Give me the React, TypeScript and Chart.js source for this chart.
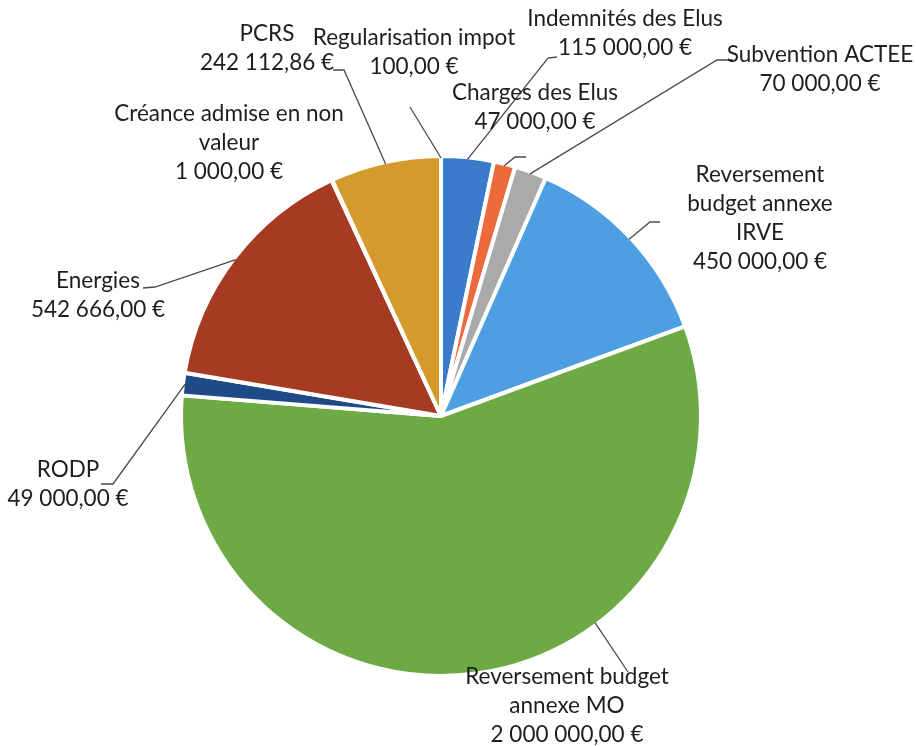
import React, { useEffect, useRef } from 'react';
import { Chart, registerables } from 'chart.js';

Chart.register(...registerables);

// ---- data ----
const categories = [
  'Regularisation impot',
  'Indemnités des Elus',
  'Charges des Elus',
  'Subvention ACTEE',
  'Reversement budget annexe IRVE',
  'Reversement budget annexe MO',
  'RODP',
  'Energies',
  'Créance admise en non valeur',
  'PCRS',
];
const values = [100, 115000, 47000, 70000, 450000, 2000000, 49000, 542666, 1000, 242112.86];
const colors = [
  '#5a4a30',
  '#3b7bcb',
  '#ec6a3c',
  '#aaaaaa',
  '#4d9fe2',
  '#6daa45',
  '#1f4a86',
  '#a63b24',
  '#646464',
  '#d49a2c',
];

// ---- label layout (style only) ----
type Pt = [number, number];
interface LabelLayout {
  x: number;
  y: number;
  wrap: number;
  leader: Pt[];
  frac?: number;
}
const labelLayout: LabelLayout[] = [
  { x: 414, y: 38, wrap: 400, leader: [[410, 107]] },
  { x: 625, y: 19, wrap: 400, leader: [[557, 57], [548, 58]] },
  { x: 535, y: 93, wrap: 400, leader: [[526, 157], [515, 157]] },
  { x: 820, y: 55, wrap: 400, leader: [[733, 60], [717, 60]] },
  { x: 760, y: 175, wrap: 165, leader: [[660, 222], [650, 222]] },
  { x: 567, y: 677, wrap: 225, leader: [[628, 672]], frac: 0.359 },
  { x: 68, y: 470, wrap: 400, leader: [[101, 484], [113, 484]] },
  { x: 98, y: 281, wrap: 400, leader: [[143, 288], [155, 287]] },
  { x: 229, y: 114, wrap: 250, leader: [] },
  { x: 267, y: 34, wrap: 400, leader: [[333, 70], [344, 70]] },
];

const FONT = '22.5px Lato, "Open Sans", sans-serif';
const LINE_H = 29;
const BORDER = 4;

function formatEuro(v: number): string {
  const [intPart, dec] = v.toFixed(2).split('.');
  const grouped = intPart.replace(/\B(?=(\d{3})+(?!\d))/g, ' ');
  return `${grouped},${dec} €`;
}

function wrapText(ctx: CanvasRenderingContext2D, text: string, maxW: number): string[] {
  const words = text.split(' ');
  const lines: string[] = [];
  let cur = '';
  for (const w of words) {
    const test = cur ? cur + ' ' + w : w;
    if (cur && ctx.measureText(test).width > maxW) {
      lines.push(cur);
      cur = w;
    } else {
      cur = test;
    }
  }
  if (cur) lines.push(cur);
  return lines;
}

const labelPlugin = {
  id: 'excelLabels',
  afterDatasetsDraw(chart: any) {
    const ctx: CanvasRenderingContext2D = chart.ctx;
    const meta = chart.getDatasetMeta(0);
    ctx.save();
    // leader lines
    ctx.strokeStyle = '#4a4a4a';
    ctx.lineWidth = 1.3;
    meta.data.forEach((arc: any, i: number) => {
      const lay = labelLayout[i];
      if (!lay || lay.leader.length === 0) return;
      const p = arc.getProps(['x', 'y', 'startAngle', 'endAngle', 'outerRadius'], true);
      const frac = lay.frac ?? 0.5;
      const a = p.startAngle + (p.endAngle - p.startAngle) * frac;
      const R = p.outerRadius - BORDER / 2;
      const ax = p.x + Math.cos(a) * R;
      const ay = p.y + Math.sin(a) * R;
      ctx.beginPath();
      ctx.moveTo(lay.leader[0][0], lay.leader[0][1]);
      for (let k = 1; k < lay.leader.length; k++) ctx.lineTo(lay.leader[k][0], lay.leader[k][1]);
      ctx.lineTo(ax, ay);
      ctx.stroke();
    });
    // texts
    ctx.font = FONT;
    ctx.fillStyle = '#1e1e1e';
    ctx.textAlign = 'center';
    ctx.textBaseline = 'middle';
    categories.forEach((cat, i) => {
      const lay = labelLayout[i];
      const lines = [...wrapText(ctx, cat, lay.wrap), formatEuro(values[i])];
      lines.forEach((ln, k) => ctx.fillText(ln, lay.x, lay.y + k * LINE_H));
    });
    ctx.restore();
  },
};

export default function App() {
  const ref = useRef<HTMLCanvasElement | null>(null);
  useEffect(() => {
    if (!ref.current) return;
    const chart = new Chart(ref.current, {
      type: 'pie',
      data: {
        labels: categories,
        datasets: [
          {
            data: values,
            backgroundColor: colors,
            borderColor: '#ffffff',
            borderWidth: BORDER,
            radius: 260,
          } as any,
        ],
      },
      options: {
        responsive: false,
        animation: false,
        layout: { padding: { left: 150, right: 184, top: 120, bottom: 34 } },
        plugins: {
          legend: { display: false },
          tooltip: { enabled: false },
        },
      },
      plugins: [labelPlugin],
    });
    return () => chart.destroy();
  }, []);
  return (
    <div style={{ position: 'fixed', left: 0, top: 0, width: 916, height: 746, background: '#fff' }}>
      <canvas ref={ref} width={916} height={746} style={{ width: 916, height: 746 }} />
    </div>
  );
}
